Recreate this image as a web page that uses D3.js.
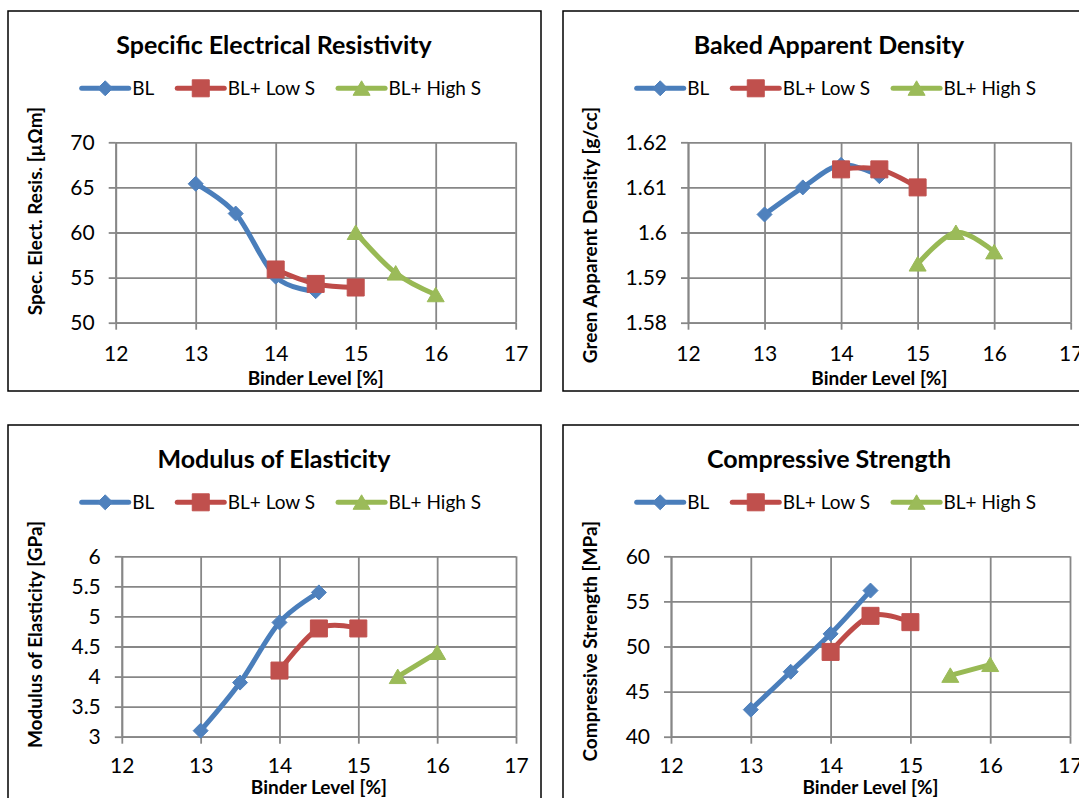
<!DOCTYPE html>
<html><head><meta charset="utf-8">
<script src="https://cdn.jsdelivr.net/npm/d3@7"></script>
<style>
body{margin:0;background:#fff}
text{font-family:Lato,"Open Sans",sans-serif;fill:#000}
</style>
</head><body>
<svg id="chart" width="1079" height="798"></svg>
<script>
// ---------- data ----------
const binderTicks = [12, 13, 14, 15, 16, 17];
const seriesNames = ["BL", "BL+ Low S", "BL+ High S"];

const binderBL = [13, 13.5, 14, 14.5];
const binderLowS = [14, 14.5, 15];
const binderHighSTop = [15, 15.5, 16];
const binderHighSBottom = [15.5, 16];

const resistivityTicks = [50, 55, 60, 65, 70];
const resistivityBL = [65.4, 62.1, 55.1, 53.5];
const resistivityLowS = [55.9, 54.3, 53.9];
const resistivityHighS = [60.0, 55.5, 53.1];

const densityTicks = [1.58, 1.59, 1.60, 1.61, 1.62];
const densityBL = [1.604, 1.610, 1.615, 1.6125];
const densityLowS = [1.614, 1.614, 1.610];
const densityHighS = [1.593, 1.600, 1.5957];

const modulusTicks = [3, 3.5, 4, 4.5, 5, 5.5, 6];
const modulusBL = [3.1, 3.9, 4.9, 5.4];
const modulusLowS = [4.1, 4.8, 4.8];
const modulusHighS = [4.0, 4.4];

const strengthTicks = [40, 45, 50, 55, 60];
const strengthBL = [43.0, 47.2, 51.4, 56.2];
const strengthLowS = [49.4, 53.4, 52.7];
const strengthHighS = [46.8, 48.0];

// ---------- styles / layout ----------
const colors = ["#4A7EBB", "#BE4B48", "#98B954"];
const markerColors = ["#4F81BD", "#C0504D", "#9BBB59"];
const markerKinds = ["diamond", "square", "triangle"];

const panels = [
  {left: 8, top: 11, title: "Specific Electrical Resistivity", yTitle: "Spec. Elect. Resis. [µΩm]",
   ticks: resistivityTicks, plotL: 115.7, plotR: 515.7, xTitleY: 374, tickPad: 16,
   series: [[binderBL, resistivityBL], [binderLowS, resistivityLowS], [binderHighSTop, resistivityHighS]]},
  {left: 563, top: 11, title: "Baked Apparent Density", yTitle: "Green Apparent Density [g/cc]",
   ticks: densityTicks, plotL: 688, plotR: 1070.7, xTitleY: 374, tickPad: 16,
   series: [[binderBL, densityBL], [binderLowS, densityLowS], [binderHighSTop, densityHighS]]},
  {left: 8, top: 425, title: "Modulus of Elasticity", yTitle: "Modulus of Elasticity [GPa]",
   ticks: modulusTicks, plotL: 121.8, plotR: 516, xTitleY: 369, tickPad: 14,
   series: [[binderBL, modulusBL], [binderLowS, modulusLowS], [binderHighSBottom, modulusHighS]]},
  {left: 563, top: 425, title: "Compressive Strength", yTitle: "Compressive Strength [MPa]",
   ticks: strengthTicks, plotL: 671, plotR: 1070, xTitleY: 369, tickPad: 14,
   series: [[binderBL, strengthBL], [binderLowS, strengthLowS], [binderHighSBottom, strengthHighS]]}
];

const PW = 533, PH = 380;
const gridColor = "#878787";
const svg = d3.select("#chart");
svg.append("rect").attr("width", 1079).attr("height", 798).attr("fill", "#fff");

function markerPath(kind) {
  if (kind === "diamond") return "M0,-7.5L7.5,0L0,7.5L-7.5,0Z";
  if (kind === "square") return "M-8.5,-8.5H8.5V8.5H-8.5Z";
  return "M0,-7.5L8.5,7L-8.5,7Z";
}

const fmt = d3.format(".3~r");
const line = d3.line().curve(d3.curveCardinal.tension(0));

panels.forEach(p => {
  const g = svg.append("g");
  g.append("rect").attr("x", p.left).attr("y", p.top).attr("width", PW).attr("height", PH)
    .attr("fill", "#fff").attr("stroke", "#000").attr("stroke-width", 1.5);

  const x = d3.scaleLinear().domain([binderTicks[0], binderTicks[binderTicks.length - 1]]).range([p.plotL, p.plotR]);
  const y = d3.scaleLinear().domain([p.ticks[0], p.ticks[p.ticks.length - 1]])
    .range([p.top + 311.7, p.top + 131.3]);
  const y0 = y.range()[0], y1 = y.range()[1];

  // gridlines
  g.append("g").attr("transform", `translate(0,${y0})`)
    .call(d3.axisBottom(x).tickValues(binderTicks).tickSize(-(y0 - y1)).tickFormat(""))
    .call(a => a.select(".domain").remove())
    .call(a => a.selectAll("line").attr("stroke", gridColor).attr("stroke-width", 1.8));
  g.append("g").attr("transform", `translate(${p.plotL},0)`)
    .call(d3.axisLeft(y).tickValues(p.ticks).tickSize(-(p.plotR - p.plotL)).tickFormat(""))
    .call(a => a.select(".domain").remove())
    .call(a => a.selectAll("line").attr("stroke", gridColor).attr("stroke-width", 1.8));

  // axes with outer tick marks and labels
  const ax = g.append("g").attr("transform", `translate(0,${y0})`)
    .call(d3.axisBottom(x).tickValues(binderTicks).tickSize(7).tickSizeOuter(0).tickPadding(p.tickPad).tickFormat(fmt));
  const ay = g.append("g").attr("transform", `translate(${p.plotL},0)`)
    .call(d3.axisLeft(y).tickValues(p.ticks).tickSize(7).tickSizeOuter(0).tickPadding(14).tickFormat(fmt));
  [ax, ay].forEach(a => {
    a.select(".domain").attr("stroke", gridColor).attr("stroke-width", 1.8);
    a.selectAll("line").attr("stroke", gridColor).attr("stroke-width", 1.8);
    a.selectAll("text").attr("font-family", "Lato").attr("font-size", 21).attr("fill", "#111");
  });

  // title
  g.append("text").attr("x", p.left + 266).attr("y", p.top + 43).attr("text-anchor", "middle")
    .attr("font-size", 25).attr("font-weight", "bold").text(p.title);

  // axis titles
  g.append("text").attr("x", (p.plotL + p.plotR) / 2).attr("y", p.top + p.xTitleY).attr("text-anchor", "middle")
    .attr("font-size", 19).attr("font-weight", "bold").text("Binder Level [%]");
  g.append("text").attr("transform", `translate(${p.left + 34},${p.top + 96}) rotate(-90)`)
    .attr("text-anchor", "end").attr("font-size", 19).attr("font-weight", "bold").text(p.yTitle);

  // series
  p.series.forEach((s, i) => {
    const pts = s[0].map((xv, k) => [x(xv), y(s[1][k])]);
    g.append("path").attr("d", line(pts)).attr("fill", "none").attr("stroke", colors[i])
      .attr("stroke-width", 5).attr("stroke-linejoin", "round").attr("stroke-linecap", "round");
    g.selectAll(null).data(pts).join("path")
      .attr("transform", d => `translate(${d[0]},${d[1]})`)
      .attr("d", markerPath(markerKinds[i])).attr("fill", markerColors[i]).attr("stroke", markerColors[i]).attr("stroke-width", 1);
  });

  // legend
  const lg = g.append("g");
  let cx = 0;
  const ly = p.top + 77.3;
  seriesNames.forEach((name, i) => {
    const it = lg.append("g").attr("transform", `translate(${cx},0)`);
    it.append("line").attr("x1", 0).attr("x2", 47).attr("y1", ly).attr("y2", ly)
      .attr("stroke", colors[i]).attr("stroke-width", 5).attr("stroke-linecap", "round");
    it.append("path").attr("transform", `translate(23.5,${ly})`).attr("d", markerPath(markerKinds[i]))
      .attr("fill", markerColors[i]).attr("stroke", markerColors[i]);
    const t = it.append("text").attr("x", 50.5).attr("y", ly + 7).attr("font-size", 19).text(name);
    cx += 50.5 + t.node().getComputedTextLength() + 23;
  });
  const total = cx - 23;
  lg.attr("transform", `translate(${p.left + 273.4 - total / 2},0)`);
});
</script>
</body></html>
